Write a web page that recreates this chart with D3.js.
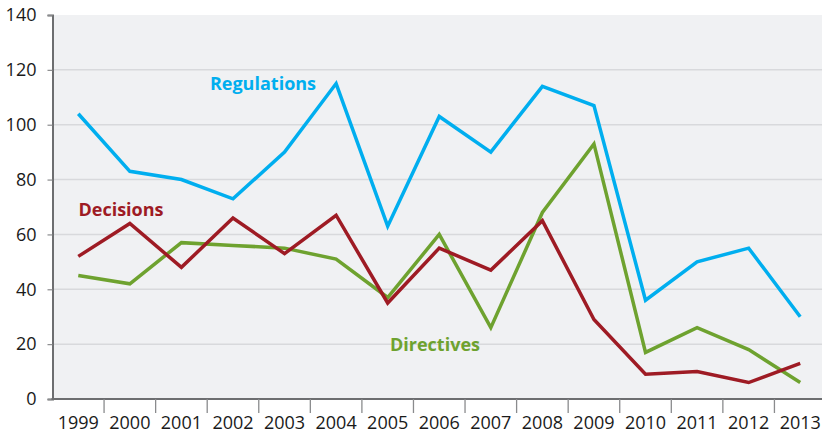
<!DOCTYPE html>
<html><head><meta charset="utf-8">
<script src="https://cdn.jsdelivr.net/npm/d3@7"></script>
<style>body{margin:0;background:#fff;}svg{display:block;}</style>
</head><body>
<svg id="c" width="822" height="434"></svg>
<script>
const years = ["1999","2000","2001","2002","2003","2004","2005","2006","2007","2008","2009","2010","2011","2012","2013"];
const regulations = [104, 83, 80, 73, 90, 115, 63, 103, 90, 114, 107, 36, 50, 55, 30];
const decisions = [52, 64, 48, 66, 53, 67, 35, 55, 47, 65, 29, 9, 10, 6, 13];
const directives = [45, 42, 57, 56, 55, 51, 37, 60, 26, 68, 93, 17, 26, 18, 6];
const yTicks = [0, 20, 40, 60, 80, 100, 120, 140];
const seriesNames = ["Regulations", "Decisions", "Directives"];
const seriesColors = ["#00aeef", "#9e1b24", "#6ea22f"];

const svg = d3.select("#c");
const mLeft = 52.5, mRight = 826, mTop = 15, mBottom = 399;
const x = d3.scaleBand().domain(years).range([mLeft, mRight]);
const y = d3.scaleLinear().domain([0, 140]).range([mBottom, mTop]);
const font = "'Open Sans', sans-serif";

svg.append("rect").attr("x", mLeft).attr("y", mTop).attr("width", 822 - mLeft).attr("height", mBottom - mTop).attr("fill", "#f0f1f3");

svg.append("g").selectAll("line").data(yTicks.filter(d => d > 0 && d < 140)).join("line")
  .attr("x1", mLeft).attr("x2", 822).attr("y1", d => y(d)).attr("y2", d => y(d))
  .attr("stroke", "#d8d9dc").attr("stroke-width", 1.5);

const yAxis = svg.append("g").attr("transform", `translate(${mLeft},0)`)
  .call(d3.axisLeft(y).tickValues(yTicks).tickSize(5).tickPadding(11));
yAxis.select(".domain").attr("stroke", "#6d6e70").attr("stroke-width", 2);
yAxis.selectAll(".tick line").attr("stroke", "#8a8b8d").attr("stroke-width", 1.2);
yAxis.selectAll("text").attr("font-family", font).attr("font-size", 18).attr("fill", "#1a1a1a");

const xg = svg.append("g").attr("transform", `translate(0,${mBottom})`);
xg.append("line").attr("x1", mLeft - 1).attr("x2", 822).attr("y1", 0).attr("y2", 0).attr("stroke", "#6d6e70").attr("stroke-width", 2);
xg.selectAll("line.t").data(years.slice(1)).join("line").attr("class", "t")
  .attr("x1", d => x(d)).attr("x2", d => x(d)).attr("y1", 0).attr("y2", 14)
  .attr("stroke", "#8a8b8d").attr("stroke-width", 1.3);
xg.selectAll("text").data(years).join("text")
  .attr("x", d => x(d) + x.bandwidth() / 2).attr("y", 30)
  .attr("text-anchor", "middle").attr("font-family", font).attr("font-size", 18).attr("fill", "#1a1a1a")
  .text(d => d);

const line = d3.line().x((d, i) => x(years[i]) + x.bandwidth() / 2).y(d => y(d));
const data = [regulations, decisions, directives];
[0, 2, 1].forEach(k => {
  svg.append("path").datum(data[k]).attr("d", line).attr("fill", "none")
    .attr("stroke", seriesColors[k]).attr("stroke-width", 3.5).attr("stroke-linejoin", "miter");
});

const labels = [
  {name: seriesNames[0], x: 263, y: 90, c: seriesColors[0]},
  {name: seriesNames[1], x: 121, y: 216, c: seriesColors[1]},
  {name: seriesNames[2], x: 435, y: 351, c: seriesColors[2]}
];
svg.selectAll("text.lab").data(labels).join("text").attr("class", "lab")
  .attr("x", d => d.x).attr("y", d => d.y).attr("text-anchor", "middle")
  .attr("font-family", font).attr("font-weight", "bold").attr("font-size", 18)
  .attr("fill", d => d.c).text(d => d.name);
</script>
</body></html>
